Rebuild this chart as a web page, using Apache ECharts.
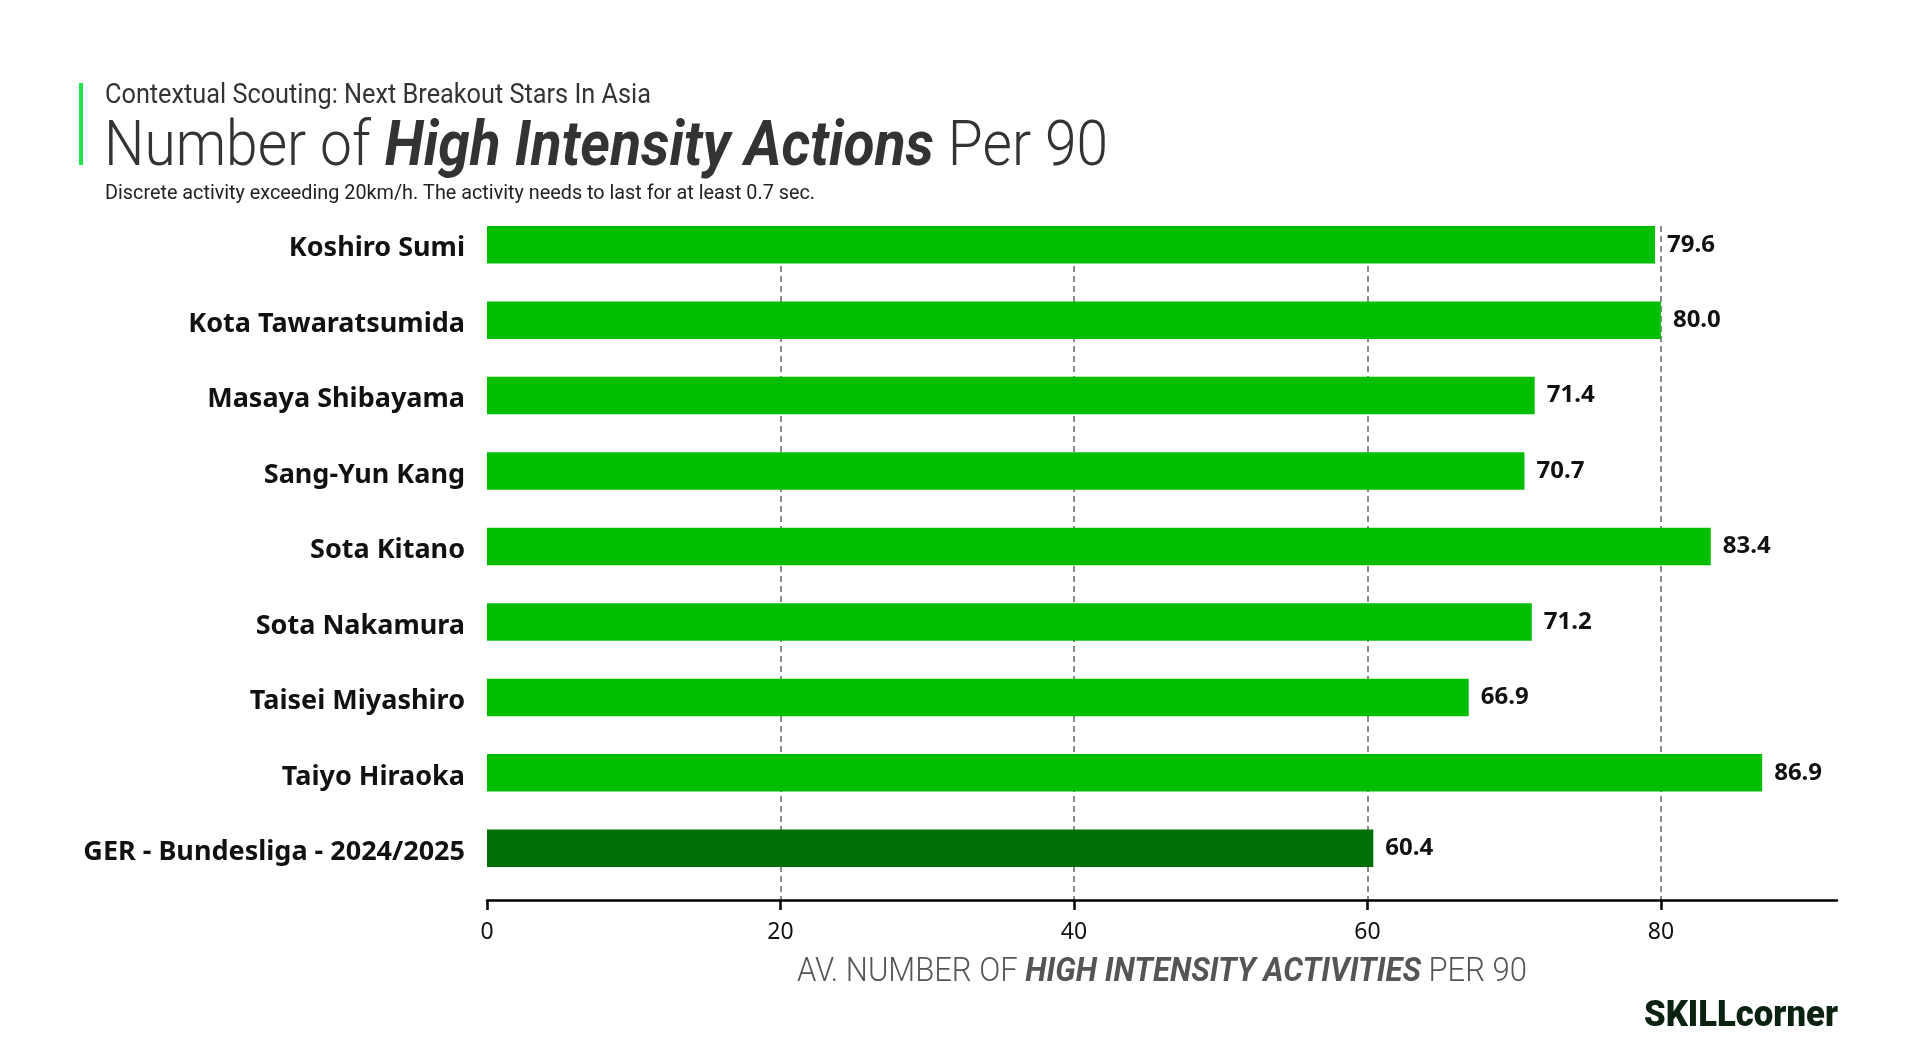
<!DOCTYPE html>
<html>
<head>
<meta charset="utf-8">
<script src="https://cdn.jsdelivr.net/npm/echarts@6/dist/echarts.min.js"></script>
<style>
html,body{margin:0;padding:0;background:#fff;}
#chart{width:1920px;height:1057px;}
</style>
</head>
<body>
<div id="chart"></div>
<script>
const categories = [
  'Koshiro Sumi',
  'Kota Tawaratsumida',
  'Masaya Shibayama',
  'Sang-Yun Kang',
  'Sota Kitano',
  'Sota Nakamura',
  'Taisei Miyashiro',
  'Taiyo Hiraoka',
  'GER - Bundesliga - 2024/2025'
];
const values = [79.6, 80.0, 71.4, 70.7, 83.4, 71.2, 66.9, 86.9, 60.4];
const benchmark = 'GER - Bundesliga - 2024/2025';
const xTicks = [0, 20, 40, 60, 80];
const xMax = 92;

const SUPER = 'Contextual Scouting: Next Breakout Stars In Asia';
const TITLE_A = 'Number of ';
const TITLE_B = 'High Intensity Actions';
const TITLE_C = ' Per 90';
const DESC = 'Discrete activity exceeding 20km/h. The activity needs to last for at least 0.7 sec.';
const AXIS_A = 'AV. NUMBER OF ';
const AXIS_B = 'HIGH INTENSITY ACTIVITIES';
const AXIS_C = ' PER 90';
const LOGO = 'SKILLcorner';

const LABEL = "'Noto Sans', 'Open Sans', sans-serif";

const mctx = document.createElement('canvas').getContext('2d');
function measure(parts) {
  let w = 0;
  parts.forEach(function (p) { mctx.font = p[1]; w += mctx.measureText(p[0]).width; });
  return w;
}
function fit(parts, target) { return target / measure(parts); }

const titleSize = 63;
const titleScale = fit([
  [TITLE_A, '300 ' + titleSize + 'px Roboto'],
  [TITLE_B, 'italic 700 ' + titleSize + 'px Roboto'],
  [TITLE_C, '300 ' + titleSize + 'px Roboto']
], 1004);
const superScale = fit([[SUPER, '400 27px Roboto']], 546);
const descScale = fit([[DESC, '400 20px Roboto']], 710);
const axisScale = fit([
  [AXIS_A, '300 34px Roboto'],
  [AXIS_B, 'italic 700 34px Roboto'],
  [AXIS_C, '300 34px Roboto']
], 730);
const logoScale = fit([[LOGO, '900 37px Roboto']], 194);

const chart = echarts.init(document.getElementById('chart'), null, {renderer: 'canvas'});

const option = {
  backgroundColor: '#ffffff',
  animation: false,
  grid: [
    {left: 487, right: 83, top: 226, bottom: 157},
    {left: 487, right: 83, top: 207, bottom: 171}
  ],
  xAxis: [
    {
      gridIndex: 0,
      type: 'value',
      min: 0,
      max: xMax,
      interval: 20,
      axisLine: {show: true, lineStyle: {color: '#000', width: 2.5}},
      axisTick: {show: true, length: 10, lineStyle: {color: '#000', width: 2.5}, customValues: xTicks},
      axisLabel: {
        customValues: xTicks,
        color: '#111',
        fontFamily: LABEL,
        fontSize: 23,
        margin: 21
      },
      splitLine: {
        show: true,
        showMinLine: false,
        lineStyle: {color: '#666', width: 1.5, type: [6, 4]}
      }
    },
    {
      gridIndex: 1,
      type: 'value',
      min: 0,
      max: xMax,
      show: false
    }
  ],
  yAxis: [
    {gridIndex: 0, type: 'value', show: false, min: 0, max: 1},
    {
      gridIndex: 1,
      type: 'category',
      inverse: true,
      data: categories,
      axisLine: {show: false},
      axisTick: {show: false},
      axisLabel: {
        interval: 0,
        color: '#111',
        fontFamily: LABEL,
        fontWeight: 'bold',
        fontSize: 27,
        margin: 22,
        verticalAlign: 'top',
        lineHeight: 8
      }
    }
  ],
  series: [
    {
      type: 'bar',
      xAxisIndex: 1,
      yAxisIndex: 1,
      data: values,
      barWidth: 37.5,
      itemStyle: {
        color: function (p) {
          return p.name === benchmark ? '#016f08' : '#00bf00';
        }
      },
      label: {
        show: true,
        position: 'right',
        distance: 12,
        color: '#111',
        fontFamily: LABEL,
        fontWeight: 'bold',
        fontSize: 24,
        padding: [4, 0, 0, 0],
        formatter: function (p) { return p.value.toFixed(1); }
      }
    }
  ],
  graphic: [
    {type: 'rect', shape: {x: 79, y: 83, width: 4, height: 82}, style: {fill: '#22e34a'}},
    {
      type: 'text', x: 105, y: 96, scaleX: superScale,
      style: {
        text: SUPER,
        fontFamily: 'Roboto', fontWeight: 400, fontSize: 27, fill: '#333',
        verticalAlign: 'middle', align: 'left'
      }
    },
    {
      type: 'text', x: 104, y: 149, scaleX: titleScale,
      style: {
        text: '{a|' + TITLE_A + '}{b|' + TITLE_B + '}{a|' + TITLE_C + '}',
        verticalAlign: 'middle', align: 'left',
        rich: {
          a: {fontFamily: 'Roboto', fontWeight: 300, fontSize: titleSize, fill: '#333'},
          b: {fontFamily: 'Roboto', fontWeight: 700, fontStyle: 'italic', fontSize: titleSize, fill: '#333'}
        }
      }
    },
    {
      type: 'text', x: 105, y: 194, scaleX: descScale,
      style: {
        text: DESC,
        fontFamily: 'Roboto', fontWeight: 400, fontSize: 20, fill: '#222',
        verticalAlign: 'middle', align: 'left'
      }
    },
    {
      type: 'text', x: 1162, y: 972, scaleX: axisScale,
      style: {
        text: '{a|' + AXIS_A + '}{b|' + AXIS_B + '}{a|' + AXIS_C + '}',
        verticalAlign: 'middle', align: 'center',
        rich: {
          a: {fontFamily: 'Roboto', fontWeight: 300, fontSize: 34, fill: '#555'},
          b: {fontFamily: 'Roboto', fontWeight: 700, fontStyle: 'italic', fontSize: 34, fill: '#555'}
        }
      }
    },
    {
      type: 'text', x: 1838, y: 1017, scaleX: logoScale,
      style: {
        text: LOGO,
        fontFamily: 'Roboto', fontWeight: 900, fontSize: 37, fill: '#0b2210',
        verticalAlign: 'middle', align: 'right'
      }
    }
  ]
};

chart.setOption(option);
</script>
</body>
</html>
